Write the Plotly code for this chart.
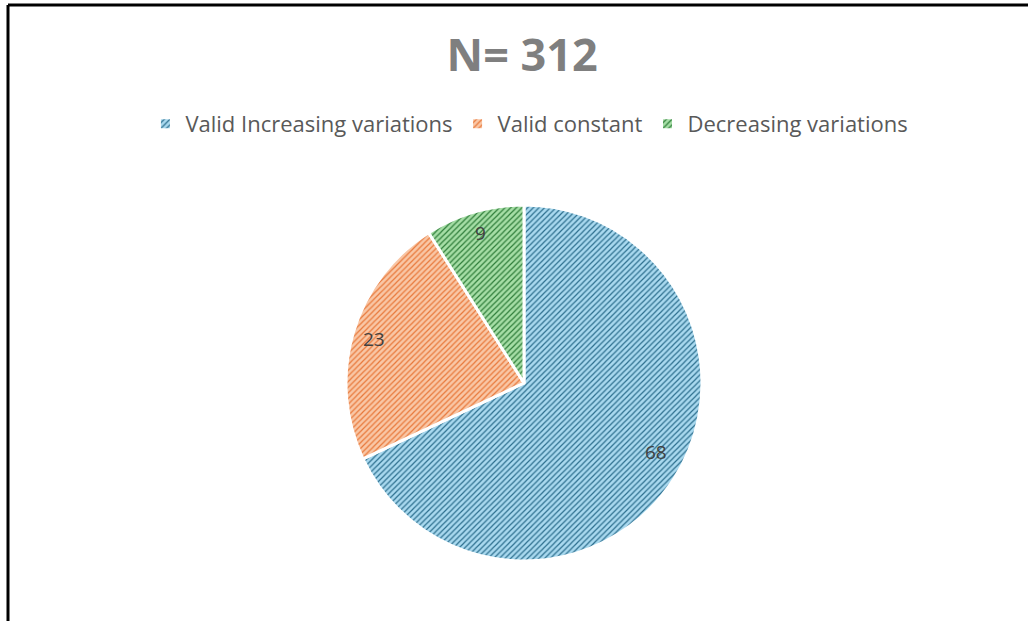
"""
Pie chart N= 312 (pattern fill, Excel style).
"""
import math
import plotly.graph_objects as go

# ─── Data ────────────────────────────────────────────────────────────────────
labels = ["Valid Increasing variations", "Valid constant", "Decreasing variations"]
values = [68, 23, 9]
title_text = "N= 312"

# ─── Colors ──────────────────────────────────────────────────────────────────
BG_COLORS = ["#a9d9ef", "#f9c7a6", "#a6dea6"]
FG_COLORS = ["#2d6f8e", "#e8783a", "#2f7d3a"]
TXT_GRAY = "#595959"
FONT = "Open Sans, Liberation Sans, Arial"

# ─── Geometry (pixels on the 1028x621 canvas) ────────────────────────────────
W, H = 1028, 621
CX, CY, R = 524, 383, 178
LABEL_R = 0.88  # labels sit near the rim, like Excel's "best fit"

fig = go.Figure()

fig.add_trace(go.Pie(
    labels=labels,
    values=values,
    sort=False,
    direction="clockwise",
    rotation=0,
    textinfo="none",
    marker=dict(
        colors=BG_COLORS,
        line=dict(color="white", width=3),
        pattern=dict(shape="/", fgcolor=FG_COLORS, bgcolor=BG_COLORS,
                     size=4, solidity=0.3, fillmode="replace"),
    ),
    domain=dict(x=[(CX - R) / W, (CX + R) / W], y=[(H - CY - R) / H, (H - CY + R) / H]),
    hoverinfo="label+value",
))

# Data labels near the outer edge of each slice
total = sum(values)
cum = 0
for v in values:
    mid = (cum + v / 2) / total * 2 * math.pi
    cum += v
    px = CX + R * LABEL_R * math.sin(mid)
    py = CY - R * LABEL_R * math.cos(mid)
    fig.add_annotation(x=px / W, y=(H - py) / H, xref="paper", yref="paper",
                       text=str(v), showarrow=False,
                       font=dict(size=19, color="#404040", family=FONT))

# Black frame pieces (left and top) visible in the reference
fig.add_shape(type="line", xref="paper", yref="paper",
              x0=8 / W, x1=8 / W, y0=0, y1=(H - 5) / H,
              line=dict(color="black", width=3))
fig.add_shape(type="line", xref="paper", yref="paper",
              x0=8 / W, x1=1.0, y0=(H - 5) / H, y1=(H - 5) / H,
              line=dict(color="black", width=3))

fig.update_layout(
    width=W,
    height=H,
    margin=dict(l=0, r=0, t=0, b=0),
    paper_bgcolor="white",
    plot_bgcolor="white",
    title=dict(text=f"<b>{title_text}</b>", x=0.508, xanchor="center",
               y=(H - 55) / H, yanchor="middle",
               font=dict(size=45, color="#7f7f7f", family=FONT)),
    legend=dict(orientation="h", x=0.515, xanchor="center",
                y=(H - 124) / H, yanchor="middle",
                font=dict(size=22, color=TXT_GRAY, family=FONT),
                itemwidth=30, tracegroupgap=0),
    showlegend=True,
)

fig.write_html("out.html", config={"displayModeBar": False},
               post_script="document.body.style.margin='0';")
